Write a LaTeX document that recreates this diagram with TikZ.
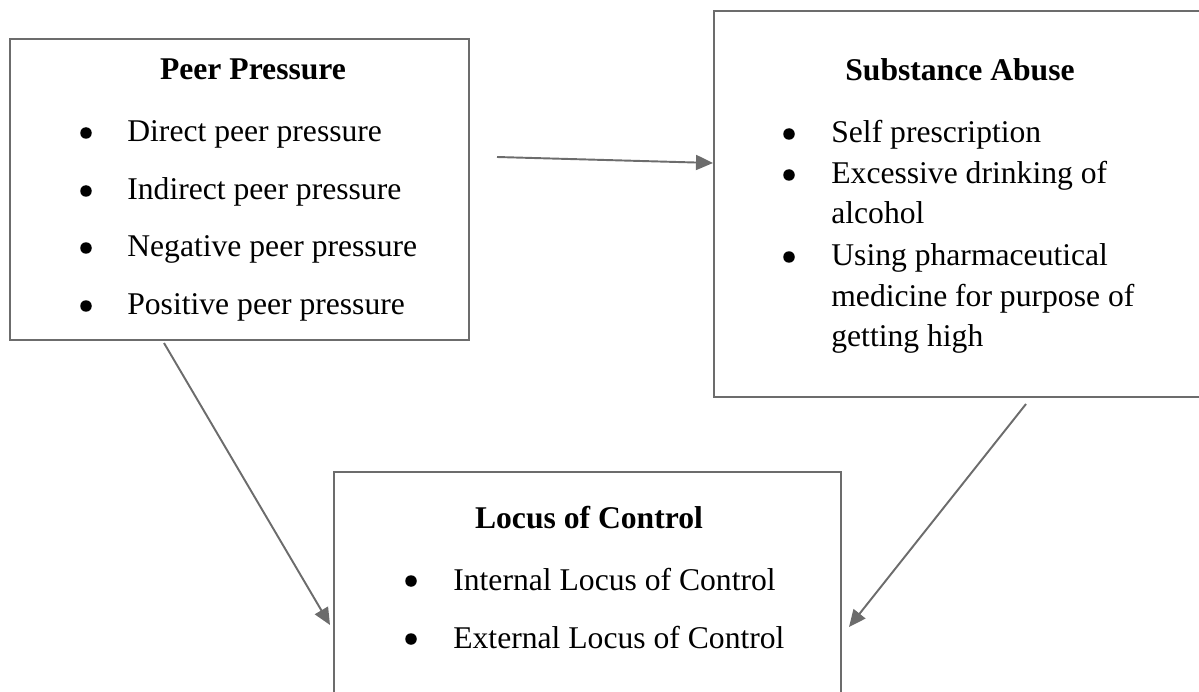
\documentclass[tikz,border=0pt]{standalone}
\usepackage{fontspec}
\setmainfont{Liberation Serif}
\usetikzlibrary{arrows.meta}
\definecolor{linegray}{RGB}{108,108,108}
\tikzset{
	box/.style={draw=linegray, line width=1.1pt},
	link/.style={draw=linegray, line width=1.1pt, -{Triangle[length=0.34cm,width=0.3cm]}},
	title/.style={anchor=base, inner sep=0pt, font=\fontsize{18}{22}\selectfont\bfseries},
	item/.style={anchor=base west, inner sep=0pt, font=\fontsize{18}{22}\selectfont},
	dot/.style={circle, fill=black, inner sep=0pt, minimum size=0.23cm}
}
\begin{document}
\begin{tikzpicture}[x=0.02cm,y=-0.02cm]
			\useasboundingbox (0,0) rectangle (1199,692);
			% boxes
			\coordinate (PPtl) at (10,39);
			\coordinate (PPbr) at (469,340);
			\coordinate (SAtl) at (714,11);
			\coordinate (SAbr) at (1206,397);
			\coordinate (LCtl) at (334,472);
			\coordinate (LCbr) at (841,720);
			\draw[box] (PPtl) rectangle (PPbr);
			\draw[box] (SAtl) rectangle (SAbr);
			\draw[box] (LCtl) rectangle (LCbr);
			% peer pressure
			\node[title] (pp) at (253,80) {Peer Pressure};
			\node[dot] (pp1b) at (86,133) {};
			\node[item] (pp1) at (127,142) {Direct peer pressure};
			\node[dot] (pp2b) at (86,191) {};
			\node[item] (pp2) at (127,200) {Indirect peer pressure};
			\node[dot] (pp3b) at (86,248) {};
			\node[item] (pp3) at (127,257) {Negative peer pressure};
			\node[dot] (pp4b) at (86,306) {};
			\node[item] (pp4) at (127,315) {Positive peer pressure};
			% substance abuse
			\node[title] (sa) at (960,81) {Substance Abuse};
			\node[dot] (sa1b) at (789,134) {};
			\node[item] (sa1) at (831,143) {Self prescription};
			\node[dot] (sa2b) at (789,175) {};
			\node[item] (sa2) at (831,184) {Excessive drinking of};
			\node[item] (sa2c) at (831,224) {alcohol};
			\node[dot] (sa3b) at (789,257) {};
			\node[item] (sa3) at (831,266) {Using pharmaceutical};
			\node[item] (sa3c) at (831,306) {medicine for purpose of};
			\node[item] (sa3d) at (831,346) {getting high};
			% locus of control
			\node[title] (lc) at (589,528) {Locus of Control};
			\node[dot] (lc1b) at (411,581) {};
			\node[item] (lc1) at (453,590) {Internal Locus of Control};
			\node[dot] (lc2b) at (411,639) {};
			\node[item] (lc2) at (453,648) {External Locus of Control};
			% arrows
			\coordinate (A1) at (497,157);
			\coordinate (B1) at (713,163);
			\coordinate (A2) at (164,343);
			\coordinate (B2) at (330,625);
			\coordinate (A3) at (1026,404);
			\coordinate (B3) at (849,627);
			\draw[link] (A1) -- (B1);
			\draw[link] (A2) -- (B2);
			\draw[link] (A3) -- (B3);
		\end{tikzpicture}
\end{document}
